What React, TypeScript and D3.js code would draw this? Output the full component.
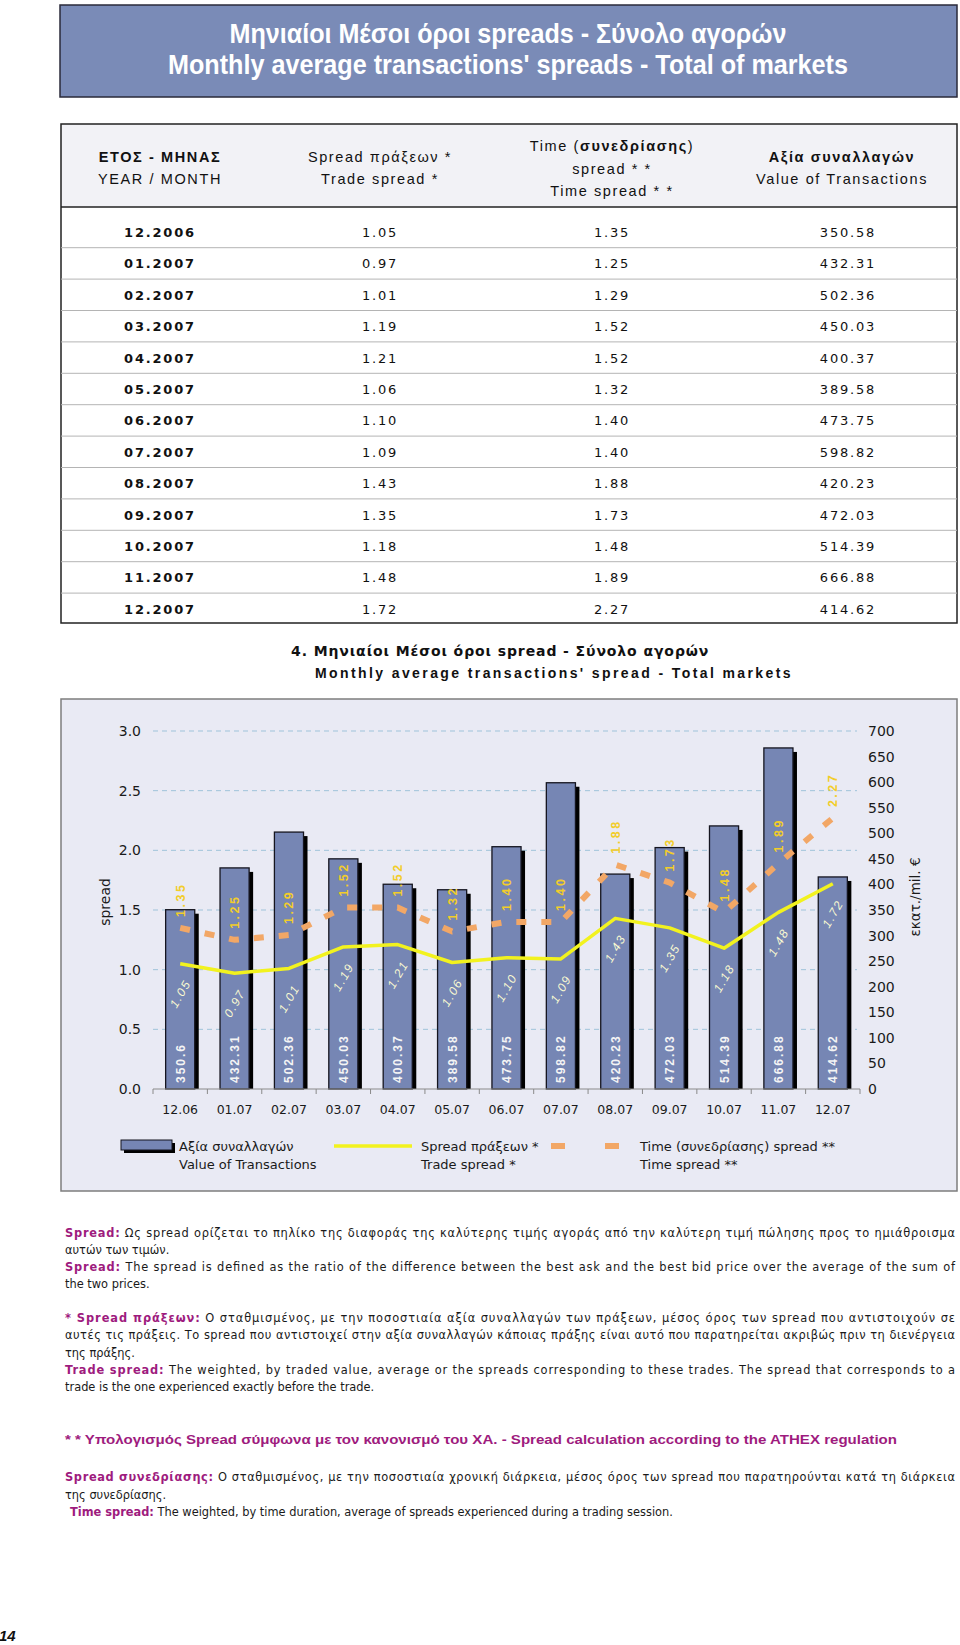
import * as d3 from 'd3';

// table / chart data
const months = ['12.2006', '01.2007', '02.2007', '03.2007', '04.2007', '05.2007', '06.2007', '07.2007', '08.2007', '09.2007', '10.2007', '11.2007', '12.2007'];
const tradeSpread = [1.05, 0.97, 1.01, 1.19, 1.21, 1.06, 1.10, 1.09, 1.43, 1.35, 1.18, 1.48, 1.72];
const timeSpread = [1.35, 1.25, 1.29, 1.52, 1.52, 1.32, 1.40, 1.40, 1.88, 1.73, 1.48, 1.89, 2.27];
const transValue = [350.58, 432.31, 502.36, 450.03, 400.37, 389.58, 473.75, 598.82, 420.23, 472.03, 514.39, 666.88, 414.62];
const barLabels = ['350.6', '432.31', '502.36', '450.03', '400.37', '389.58', '473.75', '598.82', '420.23', '472.03', '514.39', '666.88', '414.62'];
const leftTicks = [0, 0.5, 1.0, 1.5, 2.0, 2.5, 3.0];
const rightTicks = [0, 50, 100, 150, 200, 250, 300, 350, 400, 450, 500, 550, 600, 650, 700];

const categories = months.map(m => m.slice(0, 3) + m.slice(5));

const FONT_BODY = "'DejaVu Sans', Verdana, sans-serif";
const FONT_ARIAL = "'Liberation Sans', Arial, sans-serif";
const FONT_NARROW = "'Liberation Sans Narrow', 'Arial Narrow', 'Liberation Sans', Arial, sans-serif";
const MAGENTA = '#9e1b7e';
const BAR = '#7686b4';
const TRADE = '#f2f21e';
const TIME = '#f2a766';

// footnote lines
type Note = { label?: string; text: string; y: number; justify?: boolean; x?: number };
const notes: Note[] = [
  { label: 'Spread:', text: ' Ως spread ορίζεται το πηλίκο της διαφοράς της καλύτερης τιμής αγοράς από την καλύτερη τιμή πώλησης προς το ημιάθροισμα', y: 1237, justify: true },
  { text: 'αυτών των τιμών.', y: 1254 },
  { label: 'Spread:', text: ' The spread is defined as the ratio of the difference between the best ask and the best bid price over the average of the sum of', y: 1271, justify: true },
  { text: 'the two prices.', y: 1288 },
  { label: '* Spread πράξεων:', text: ' Ο σταθμισμένος, με την ποσοστιαία αξία συναλλαγών των πράξεων, μέσος όρος των spread που αντιστοιχούν σε', y: 1322, justify: true },
  { text: 'αυτές τις πράξεις. Το spread που αντιστοιχεί στην αξία συναλλαγών κάποιας πράξης είναι αυτό που παρατηρείται ακριβώς πριν τη διενέργεια', y: 1339, justify: true },
  { text: 'της πράξης.', y: 1357 },
  { label: 'Trade spread:', text: ' The weighted, by traded value, average or the spreads corresponding to these trades. The spread that corresponds to a', y: 1374, justify: true },
  { text: 'trade is the one experienced exactly before the trade.', y: 1391 },
  { label: 'Spread συνεδρίασης:', text: ' Ο σταθμισμένος, με την ποσοστιαία χρονική διάρκεια, μέσος όρος των spread που παρατηρούνται κατά τη διάρκεια', y: 1481, justify: true },
  { text: 'της συνεδρίασης.', y: 1499 },
  { label: 'Time spread:', text: ' The weighted, by time duration, average of spreads experienced during a trading session.', y: 1516, x: 70 },
];

export default function App() {
  const x = d3.scaleBand<string>().domain(categories).range([153, 860]);
  const bw = x.bandwidth();
  const cx = (i: number) => (x(categories[i]) ?? 0) + bw / 2;
  const yL = d3.scaleLinear().domain([0, 3]).range([1089, 731]);
  const yR = d3.scaleLinear().domain([0, 700]).range([1089, 731]);
  const barW = bw * 0.535;
  const base = yL(0);

  const line = d3.line<number>().x((_, i) => cx(i));
  const tradePath = line.y(d => yL(d))(tradeSpread) ?? '';
  const timePath = d3.line<number>().x((_, i) => cx(i)).y(d => yL(d))(timeSpread) ?? '';

  const rowY = (i: number) => 232 + i * 31.4;

  return (
    <svg width={960} height={1645} style={{ position: 'absolute', left: 0, top: 0, background: '#fff' }}>
      {/* title */}
      <rect x={60} y={5} width={897} height={92} fill="#7a8bb7" stroke="#2a2a3a" strokeWidth={1.5} />
      <g fontFamily={FONT_NARROW} fontWeight="bold" fontSize={27} fill="#fff" textAnchor="middle">
        <text x={508} y={43} textLength={557} lengthAdjust="spacingAndGlyphs">Μηνιαίοι Μέσοι όροι spreads - Σύνολο αγορών</text>
        <text x={508} y={74} textLength={680} lengthAdjust="spacingAndGlyphs">Monthly average transactions' spreads - Total of markets</text>
      </g>

      {/* table */}
      <rect x={61} y={124} width={896} height={83} fill="#f2f2f6" />
      <rect x={61} y={124} width={896} height={499} fill="none" stroke="#222" strokeWidth={1.5} />
      <line x1={61} x2={957} y1={207} y2={207} stroke="#222" strokeWidth={1.5} />
      <g fontFamily={FONT_ARIAL} fontSize={14.5} letterSpacing={1.6} fill="#111" textAnchor="middle">
        <text x={160} y={162} fontWeight="bold">ΕΤΟΣ - ΜΗΝΑΣ</text>
        <text x={160} y={184}>YEAR / MONTH</text>
        <text x={380} y={162}>Spread πράξεων *</text>
        <text x={380} y={184}>Trade spread *</text>
        <text x={612} y={151}>Time  (<tspan fontWeight="bold">συνεδρίασης</tspan>)</text>
        <text x={612} y={174}>spread * *</text>
        <text x={612} y={196}>Time spread * *</text>
        <text x={842} y={162} fontWeight="bold">Αξία συναλλαγών</text>
        <text x={842} y={184}>Value of Transactions</text>
      </g>
      {months.slice(0, -1).map((_, i) => (
        <line key={`sep-${i}`} x1={61} x2={957} y1={rowY(i) + 15.7} y2={rowY(i) + 15.7} stroke="#b4b4b4" strokeWidth={1} />
      ))}
      <g fontFamily={FONT_BODY} fontSize={13} letterSpacing={1.8} fill="#111" textAnchor="middle">
        {months.map((m, i) => (
          <g key={`row-${i}`}>
            <text x={160} y={rowY(i) + 5} fontWeight="bold">{m}</text>
            <text x={380} y={rowY(i) + 5}>{tradeSpread[i].toFixed(2)}</text>
            <text x={612} y={rowY(i) + 5}>{timeSpread[i].toFixed(2)}</text>
            <text x={848} y={rowY(i) + 5}>{transValue[i].toFixed(2)}</text>
          </g>
        ))}
      </g>

      {/* chart title */}
      <text x={291} y={656} fontFamily={FONT_BODY} fontWeight="bold" fontSize={14} letterSpacing={0.9} fill="#111">
        4. Μηνιαίοι Μέσοι όροι spread - Σύνολο αγορών
      </text>
      <text x={315} y={678} fontFamily={FONT_ARIAL} fontWeight="bold" fontSize={14} letterSpacing={2.4} fill="#111">
        Monthly average transactions' spread - Total markets
      </text>

      {/* chart box */}
      <rect x={61} y={699} width={896} height={492} fill="#e9eaf4" stroke="#7d7d7d" strokeWidth={1.5} />

      {/* grid */}
      {leftTicks.filter(t => t > 0).map(t => (
        <line key={`g-${t}`} x1={153} x2={857} y1={yL(t)} y2={yL(t)} stroke="#9fc3da" strokeWidth={1} strokeDasharray="5 4" />
      ))}

      {/* bars */}
      {transValue.map((v, i) => {
        const bx = cx(i) - barW / 2;
        const by = yR(v);
        return (
          <g key={`bar-${i}`}>
            <rect x={bx + 4} y={by + 4} width={barW} height={base - by - 4} fill="#000" />
            <rect x={bx} y={by} width={barW} height={base - by} fill={BAR} stroke="#15151f" strokeWidth={1.3} />
          </g>
        );
      })}

      {/* axis */}
      <line x1={153} x2={860} y1={base} y2={base} stroke="#8a8a8a" strokeWidth={1} />
      {d3.range(categories.length + 1).map(i => (
        <line key={`tk-${i}`} x1={153 + i * bw} x2={153 + i * bw} y1={base} y2={base + 5} stroke="#8a8a8a" strokeWidth={1} />
      ))}

      {/* bar labels */}
      <g fontFamily={FONT_ARIAL} fontWeight="bold" fontSize={12} letterSpacing={2} fill="#f4f4f4">
        {barLabels.map((l, i) => (
          <text key={`bl-${i}`} transform={`translate(${cx(i) + 4.5},${base - 6}) rotate(-90)`}>{l}</text>
        ))}
      </g>

      {/* lines */}
      <path d={timePath} fill="none" stroke={TIME} strokeWidth={6} strokeDasharray="10 15" />
      <path d={tradePath} fill="none" stroke={TRADE} strokeWidth={3.5} strokeLinejoin="round" />

      {/* time spread labels */}
      <g fontFamily={FONT_ARIAL} fontWeight="bold" fontSize={12.5} letterSpacing={2.5} fill="#f2cd2a">
        {timeSpread.map((v, i) => (
          <text key={`tl-${i}`} transform={`translate(${cx(i) + 4.5},${yL(v) - 11}) rotate(-90)`}>{v.toFixed(2)}</text>
        ))}
      </g>
      {/* trade spread labels */}
      <g fontFamily={FONT_ARIAL} fontStyle="italic" fontSize={12} letterSpacing={1.6} fill="#fafad2" textAnchor="middle">
        {tradeSpread.map((v, i) => (
          <text key={`trl-${i}`} transform={`translate(${cx(i)},${yL(v) + 30}) rotate(-60)`} dy="0.35em">{v.toFixed(2)}</text>
        ))}
      </g>

      {/* axis labels */}
      <g fontFamily={FONT_BODY} fontSize={14} fill="#1a1a1a">
        {leftTicks.map(t => (
          <text key={`lt-${t}`} x={141} y={yL(t) + 5} textAnchor="end">{t.toFixed(1)}</text>
        ))}
        {rightTicks.map(t => (
          <text key={`rt-${t}`} x={868} y={yR(t) + 5}>{t}</text>
        ))}
      </g>
      <g fontFamily={FONT_BODY} fontSize={12.5} fill="#1a1a1a" textAnchor="middle">
        {categories.map((c, i) => (
          <text key={`xl-${i}`} x={cx(i)} y={1114}>{c}</text>
        ))}
      </g>
      <text transform="translate(110,902) rotate(-90)" textAnchor="middle" fontFamily={FONT_BODY} fontSize={14} fill="#1a1a1a">spread</text>
      <text transform="translate(920,897) rotate(-90)" textAnchor="middle" fontFamily={FONT_BODY} fontSize={13.5} fill="#1a1a1a">εκατ./mil. €</text>

      {/* legend */}
      <rect x={124} y={1143} width={51} height={10} fill="#000" />
      <rect x={121} y={1140} width={51} height={10} fill={BAR} stroke="#15151f" strokeWidth={1} />
      <line x1={334} x2={412} y1={1146} y2={1146} stroke={TRADE} strokeWidth={3.5} />
      <line x1={551} x2={619} y1={1146} y2={1146} stroke={TIME} strokeWidth={6} strokeDasharray="14 40" />
      <g fontFamily={FONT_BODY} fontSize={13} fill="#1a1a1a">
        <text x={179} y={1151}>Αξία συναλλαγών</text>
        <text x={179} y={1169}>Value of Transactions</text>
        <text x={421} y={1151}>Spread πράξεων *</text>
        <text x={421} y={1169}>Trade spread *</text>
        <text x={640} y={1151}>Time  (συνεδρίασης) spread **</text>
        <text x={640} y={1169}>Time spread **</text>
      </g>

      {/* footnotes */}
      <g fontFamily={FONT_BODY} fontSize={11.4} fill="#1a1a1a">
        {notes.map((n, i) => (
          <text key={`n-${i}`} x={n.x ?? 65} y={n.y}
            {...(n.justify ? { textLength: 890, lengthAdjust: 'spacing' } : {})}>
            {n.label && <tspan fill={MAGENTA} fontWeight="bold">{n.label}</tspan>}
            {n.text}
          </text>
        ))}
      </g>
      <text x={65} y={1444} fontFamily={FONT_NARROW} fontWeight="bold" fontSize={13.5} fill={MAGENTA}
        textLength={832} lengthAdjust="spacingAndGlyphs">
        * * Υπολογισμός Spread σύμφωνα με τον κανονισμό  του ΧΑ. - Spread calculation according to the ATHEX regulation
      </text>

      <text x={-1} y={1641} fontFamily={FONT_ARIAL} fontWeight="bold" fontStyle="italic" fontSize={15} fill="#111">14</text>
    </svg>
  );
}
